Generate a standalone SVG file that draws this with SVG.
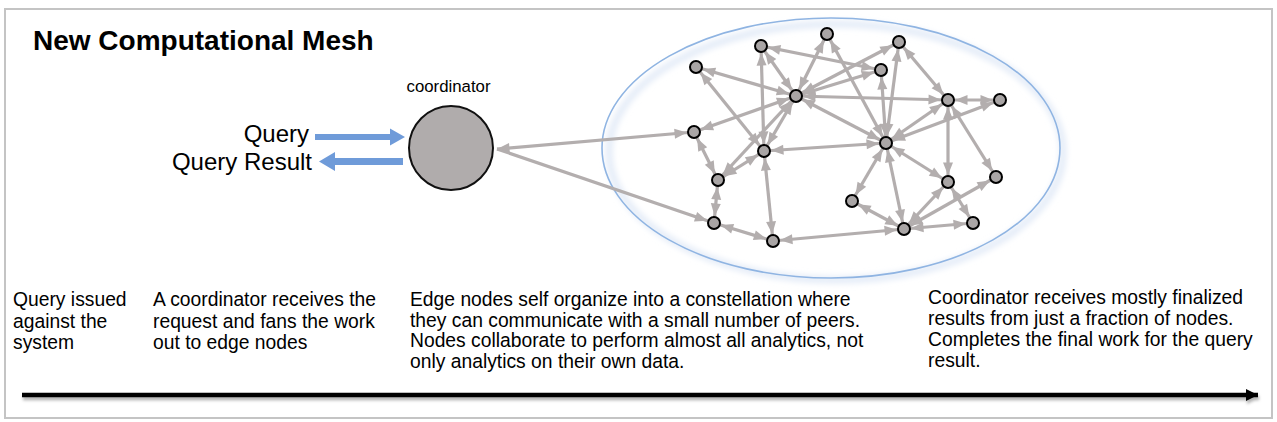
<svg xmlns="http://www.w3.org/2000/svg" width="1277" height="422" viewBox="0 0 1277 422">
<style>
.t{font-family:"Liberation Sans",Arial,sans-serif;fill:#000}
.b{font-size:19.3px}
.e{stroke:#b3aeae;stroke-width:3.2;fill:none;marker-start:url(#ah);marker-end:url(#ah)}
.n{fill:#a9a5a5;stroke:#000;stroke-width:2}
</style>
<defs>
<marker id="ah" markerUnits="userSpaceOnUse" markerWidth="13" markerHeight="11" refX="19.5" refY="5.5" orient="auto-start-reverse" overflow="visible">
<path d="M0,0.5 L12.5,5.5 L0,10.5 z" fill="#b3aeae"/>
</marker>
<marker id="ah0" markerUnits="userSpaceOnUse" markerWidth="13" markerHeight="11" refX="12.5" refY="5.5" orient="auto-start-reverse" overflow="visible">
<path d="M0,0.5 L12.5,5.5 L0,10.5 z" fill="#b3aeae"/>
</marker>
<marker id="tl" markerUnits="userSpaceOnUse" markerWidth="14" markerHeight="12" refX="12" refY="6" orient="auto" overflow="visible">
<path d="M0,0 L12,6 L0,12 z" fill="#000"/>
</marker>
<filter id="glow" filterUnits="userSpaceOnUse" x="580" y="0" width="510" height="300">
<feGaussianBlur stdDeviation="3"/>
</filter>
<filter id="sh" filterUnits="userSpaceOnUse" x="10" y="380" width="1265" height="30">
<feGaussianBlur in="SourceAlpha" stdDeviation="1.5"/>
<feOffset dx="1" dy="3" result="o"/>
<feFlood flood-color="#000" flood-opacity="0.3"/>
<feComposite in2="o" operator="in"/>
<feMerge><feMergeNode/><feMergeNode in="SourceGraphic"/></feMerge>
</filter>
</defs>
<rect x="0" y="0" width="1277" height="422" fill="#fff"/>
<rect x="5" y="9" width="1267" height="409" fill="none" stroke="#c4c4c4" stroke-width="2"/>
<text class="t" x="33" y="50" font-size="28" font-weight="bold">New Computational Mesh</text>

<g id="mesh-boundary">
<ellipse cx="836" cy="152" rx="227" ry="128" fill="none" stroke="#dfe8f6" stroke-width="6" filter="url(#glow)"/>
<ellipse cx="831" cy="148" rx="229" ry="130" fill="none" stroke="#8fb4e2" stroke-width="1.6"/>
</g>

<g id="query-arrows">
<text class="t" x="309" y="142" font-size="24" text-anchor="end">Query</text>
<text class="t" x="312" y="170" font-size="24" text-anchor="end">Query Result</text>
<polygon points="315,134 390,134 390,128.5 405,137 390,145.5 390,140 315,140" fill="#6f9bd9"/>
<polygon points="403,158 335,158 335,152 319,161.5 335,171 335,165 403,165" fill="#6f9bd9"/>
</g>

<g id="connectors">
<line class="e" x1="497" y1="149" x2="694" y2="132" style="marker-start:url(#ah0)"/>
<line class="e" x1="497" y1="149" x2="714" y2="223" style="marker-start:none"/>
<line class="e" x1="761" y1="46" x2="796" y2="96"/>
<line class="e" x1="761" y1="46" x2="764" y2="151"/>
<line class="e" x1="761" y1="46" x2="881" y2="70"/>
<line class="e" x1="696" y1="67" x2="796" y2="96"/>
<line class="e" x1="696" y1="67" x2="764" y2="151"/>
<line class="e" x1="796" y1="96" x2="694" y2="132"/>
<line class="e" x1="796" y1="96" x2="827" y2="34"/>
<line class="e" x1="796" y1="96" x2="899" y2="42"/>
<line class="e" x1="796" y1="96" x2="881" y2="70"/>
<line class="e" x1="796" y1="96" x2="948" y2="100"/>
<line class="e" x1="796" y1="96" x2="886" y2="143"/>
<line class="e" x1="796" y1="96" x2="764" y2="151"/>
<line class="e" x1="796" y1="96" x2="718" y2="180"/>
<line class="e" x1="694" y1="132" x2="718" y2="180"/>
<line class="e" x1="718" y1="180" x2="764" y2="151"/>
<line class="e" x1="718" y1="180" x2="714" y2="223"/>
<line class="e" x1="714" y1="223" x2="773" y2="241"/>
<line class="e" x1="764" y1="151" x2="773" y2="241"/>
<line class="e" x1="764" y1="151" x2="886" y2="143"/>
<line class="e" x1="773" y1="241" x2="904" y2="229"/>
<line class="e" x1="827" y1="34" x2="886" y2="143"/>
<line class="e" x1="899" y1="42" x2="886" y2="143"/>
<line class="e" x1="881" y1="70" x2="886" y2="143"/>
<line class="e" x1="899" y1="42" x2="948" y2="100"/>
<line class="e" x1="948" y1="100" x2="1000" y2="100"/>
<line class="e" x1="1000" y1="100" x2="886" y2="143"/>
<line class="e" x1="948" y1="100" x2="886" y2="143"/>
<line class="e" x1="948" y1="100" x2="948" y2="182"/>
<line class="e" x1="948" y1="100" x2="996" y2="177"/>
<line class="e" x1="886" y1="143" x2="852" y2="201"/>
<line class="e" x1="886" y1="143" x2="904" y2="229"/>
<line class="e" x1="886" y1="143" x2="948" y2="182"/>
<line class="e" x1="852" y1="201" x2="904" y2="229"/>
<line class="e" x1="948" y1="182" x2="904" y2="229"/>
<line class="e" x1="996" y1="177" x2="904" y2="229"/>
<line class="e" x1="948" y1="182" x2="973" y2="223"/>
<line class="e" x1="904" y1="229" x2="973" y2="223"/>
</g>

<g id="coordinator">
<text class="t" x="448.5" y="92" font-size="16.8" text-anchor="middle">coordinator</text>
<circle cx="451" cy="148" r="42" fill="#b0acac" stroke="#111" stroke-width="2"/>
</g>
<g id="node-A"><circle class="n" cx="761" cy="46" r="6"/></g>
<g id="node-B"><circle class="n" cx="696" cy="67" r="6"/></g>
<g id="node-C"><circle class="n" cx="796" cy="96" r="6"/></g>
<g id="node-D"><circle class="n" cx="694" cy="132" r="6"/></g>
<g id="node-E"><circle class="n" cx="827" cy="34" r="6"/></g>
<g id="node-F"><circle class="n" cx="899" cy="42" r="6"/></g>
<g id="node-G"><circle class="n" cx="881" cy="70" r="6"/></g>
<g id="node-H"><circle class="n" cx="948" cy="100" r="6"/></g>
<g id="node-I"><circle class="n" cx="1000" cy="100" r="6"/></g>
<g id="node-J"><circle class="n" cx="886" cy="143" r="6"/></g>
<g id="node-K"><circle class="n" cx="764" cy="151" r="6"/></g>
<g id="node-L"><circle class="n" cx="718" cy="180" r="6"/></g>
<g id="node-M"><circle class="n" cx="714" cy="223" r="6"/></g>
<g id="node-N"><circle class="n" cx="773" cy="241" r="6"/></g>
<g id="node-O"><circle class="n" cx="948" cy="182" r="6"/></g>
<g id="node-P"><circle class="n" cx="996" cy="177" r="6"/></g>
<g id="node-Q"><circle class="n" cx="852" cy="201" r="6"/></g>
<g id="node-R"><circle class="n" cx="904" cy="229" r="6"/></g>
<g id="node-S"><circle class="n" cx="973" cy="223" r="6"/></g>

<g id="descriptions">
<text class="t b" x="13" y="306">Query issued</text>
<text class="t b" x="13" y="328">against the</text>
<text class="t b" x="13" y="349">system</text>
<text class="t b" x="153" y="306">A coordinator receives the</text>
<text class="t b" x="153" y="328">request and fans the work</text>
<text class="t b" x="153" y="349">out to edge nodes</text>
<text class="t b" x="410" y="306">Edge nodes self organize into a constellation where</text>
<text class="t b" x="410" y="327">they can communicate with a small number of peers.</text>
<text class="t b" x="410" y="347">Nodes collaborate to perform almost all analytics, not</text>
<text class="t b" x="410" y="368">only analytics on their own data.</text>
<text class="t b" x="928" y="304">Coordinator receives mostly finalized</text>
<text class="t b" x="928" y="325">results from just a fraction of nodes.</text>
<text class="t b" x="928" y="346">Completes the final work for the query</text>
<text class="t b" x="928" y="367">result.</text>
</g>

<g id="timeline" filter="url(#sh)">
<line x1="22" y1="395" x2="1258" y2="395" stroke="#000" stroke-width="4.5" marker-end="url(#tl)"/>
</g>
</svg>
